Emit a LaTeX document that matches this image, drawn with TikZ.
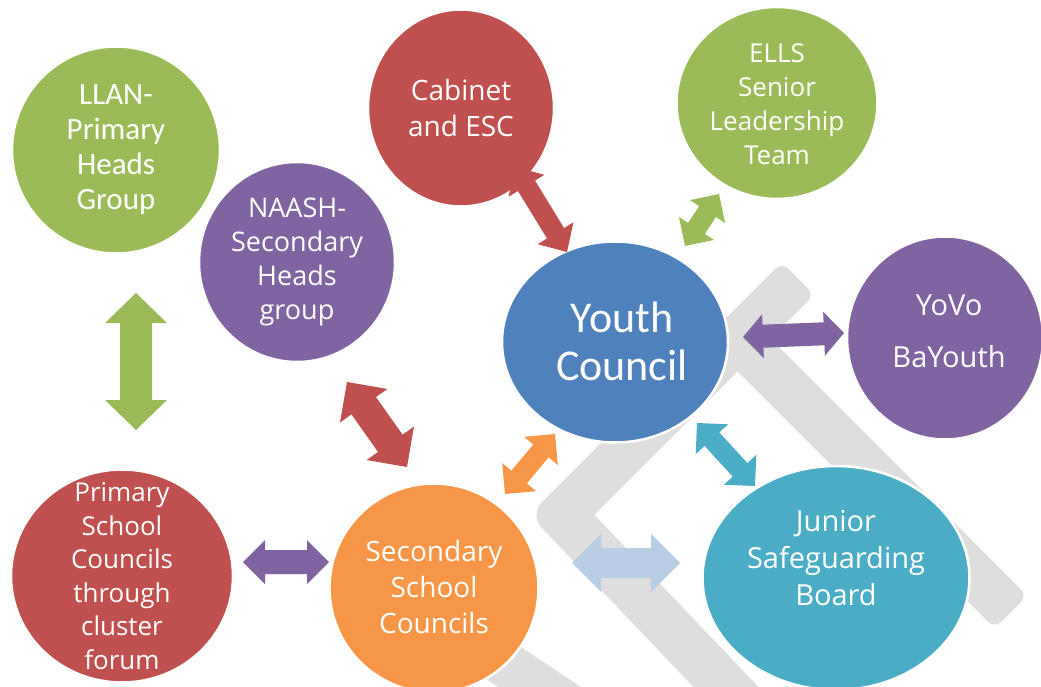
\documentclass[tikz,border=0pt]{standalone}
\usepackage{fontspec}
\setmainfont{Open Sans}
\newfontfamily\calfont{Carlito}
\usetikzlibrary{calc,shapes.geometric}
\definecolor{cgreen}{HTML}{9BBB59}
\definecolor{cred}{HTML}{C0504D}
\definecolor{cpurple}{HTML}{8064A2}
\definecolor{cblue}{HTML}{4F81BD}
\definecolor{corange}{HTML}{F79646}
\definecolor{cteal}{HTML}{4BACC6}
\definecolor{clblue}{HTML}{B9CDE5}
\definecolor{cgray}{HTML}{DEDEDE}
\newcommand\fs[2]{\fontsize{#1}{#2}\selectfont}
% #1 colour, #2 start, #3 end, #4 head length, #5 head half-width, #6 shaft half-width
\newcommand\dblarrow[6]{%
 \fill[#1] (#2) -- ($(#2)!#4!(#3)!#5!90:(#3)$) -- ($(#2)!#4!(#3)!#6!90:(#3)$)
  -- ($(#3)!#4!(#2)!#6!-90:(#2)$) -- ($(#3)!#4!(#2)!#5!-90:(#2)$) -- (#3)
  -- ($(#3)!#4!(#2)!#5!90:(#2)$) -- ($(#3)!#4!(#2)!#6!90:(#2)$)
  -- ($(#2)!#4!(#3)!#6!-90:(#3)$) -- ($(#2)!#4!(#3)!#5!-90:(#3)$) -- cycle;}
\tikzset{
 circ/.style={ellipse, draw=white, line width=2.5pt, inner sep=0pt},
 txt/.style={text=white, align=center, inner sep=0pt},
 band/.style={fill=cgray}
}
\begin{document}
\begin{tikzpicture}[x=1pt,y=-1pt]
\useasboundingbox (0,0) rectangle (1041,687);
\fill[white] (0,0) rectangle (1041,687);
% background grey chevrons
\fill[band] (781.7,262.2) [rounded corners=9] -- (814.3,294.8) [sharp corners] -- (594.25,514.75) -- (799.5,730) -- (734.5,730) [rounded corners=18] -- (529.2,514.7) [rounded corners=9] -- cycle;
\fill[band] (705,339) [rounded corners=9] -- (994.7,628.3) -- (1027.3,595.7) [sharp corners] -- (770.5,338.5) -- (760,328) -- cycle;
\fill[band] (441,649) -- (467,611) -- (650,733) -- (624,771) -- cycle;
% circles
\node[circ, fill=cgreen, minimum width=208pt, minimum height=207pt] (llan) at (116,150) {};
\node[circ, fill=cpurple, minimum width=196pt, minimum height=200pt] (naash) at (297,262) {};
\node[circ, fill=cred, minimum width=186pt, minimum height=197pt] (cab) at (461,108) {};
\node[circ, fill=cgreen, minimum width=201pt, minimum height=192pt] (ells) at (777,103) {};
\node[circ, fill=cblue, minimum width=226pt, minimum height=201pt] (yc) at (615,342) {};
\node[circ, fill=cpurple, minimum width=196pt, minimum height=203pt] (yovo) at (945,338) {};
\node[circ, fill=cteal, minimum width=267pt, minimum height=224pt] (jsb) at (836,578) {};
\node[circ, fill=corange, minimum width=209pt, minimum height=209pt] (ssc) at (434,588) {};
\node[circ, fill=cred, minimum width=222pt, minimum height=213pt] (psc) at (122,576) {};
% texts
\node[txt, font=\calfont\fs{31}{35}] (llan-t) at (116,150) {LLAN-\\Primary\\Heads\\Group};
\node[txt, font=\fs{27}{34}] (naash-t) at (297,262) {NAASH-\\Secondary\\Heads\\group};
\node[txt, font=\fs{28}{36}] (cab-t) at (461,108) {Cabinet\\and ESC};
\node[txt, font=\fs{26}{34}] (ells-t) at (777,104) {ELLS\\Senior\\Leadership\\Team};
\node[txt, font=\calfont\fs{44}{48}] (yc-t) at (622,341) {Youth\\Council};
\node[txt, font=\fs{29}{52}] (yovo-t) at (949,331) {YoVo\\BaYouth};
\node[txt, font=\fs{29}{37}] (jsb-t) at (836,558) {Junior\\Safeguarding\\Board};
\node[txt, font=\fs{28}{36}] (ssc-t) at (434,587) {Secondary\\School\\Councils};
\node[txt, font=\fs{26}{33.5}] (psc-t) at (122,576) {Primary\\School\\Councils\\through\\cluster\\forum};
% arrow end points
\coordinate (a1) at (136,293); \coordinate (b1) at (136,430);
\coordinate (a2) at (243,562); \coordinate (b2) at (329,562);
\coordinate (a3) at (347,382); \coordinate (b3) at (407,467);
\coordinate (a4) at (505,494); \coordinate (b4) at (555,434);
\coordinate (a5) at (572,563); \coordinate (b5) at (680,563);
\coordinate (a6) at (697,423); \coordinate (b6) at (755,486);
\coordinate (a7) at (743,337); \coordinate (b7) at (844,333);
\coordinate (a8) at (515,167); \coordinate (b8) at (567,252);
\coordinate (a9) at (685,246); \coordinate (b9) at (719,194);
% arrows
\dblarrow{cgreen}{a1}{b1}{30pt}{31pt}{16pt}
\dblarrow{cpurple}{a2}{b2}{22pt}{22pt}{12pt}
\dblarrow{cred}{a3}{b3}{29pt}{29pt}{15pt}
\dblarrow{corange}{a4}{b4}{22pt}{22pt}{10pt}
\dblarrow{clblue}{a5}{b5}{29pt}{29pt}{15pt}
\dblarrow{cteal}{a6}{b6}{22pt}{22pt}{10pt}
\dblarrow{cpurple}{a7}{b7}{20pt}{22pt}{11.5pt}
\dblarrow{cred}{a8}{b8}{22pt}{21pt}{10pt}
\dblarrow{cgreen}{a9}{b9}{21pt}{21pt}{10pt}
\end{tikzpicture}
\end{document}
